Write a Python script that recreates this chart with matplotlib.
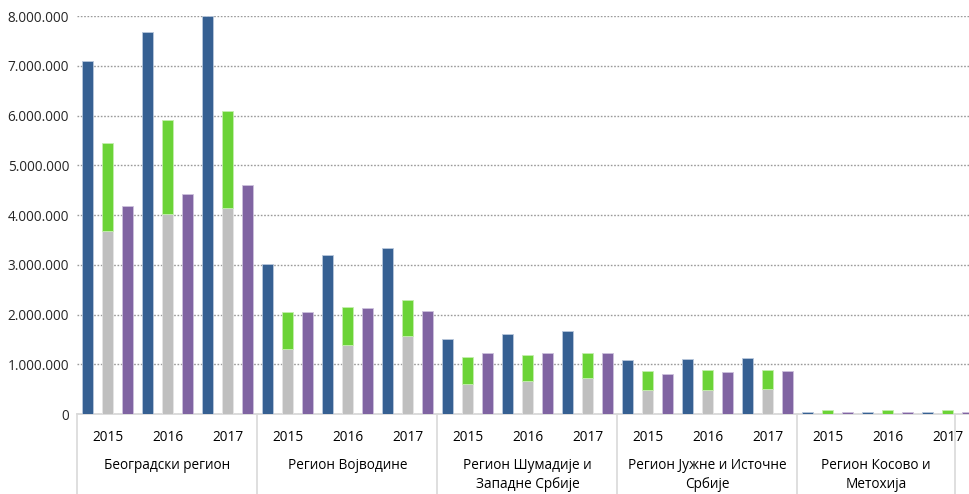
import matplotlib
matplotlib.use("Agg")
import matplotlib.pyplot as plt
from matplotlib.ticker import FuncFormatter, MultipleLocator
import numpy as np

plt.rcParams['font.family'] = ['Open Sans', 'DejaVu Sans']

years = ['2015', '2016', '2017']
regions = ['Београдски регион', 'Регион Војводине', 'Регион Шумадије и\nЗападне Србије',
           'Регион Јужне и Источне\nСрбије', 'Регион Косово и\nМетохија']

blue = [7100000, 7670000, 8000000, 3015000, 3190000, 3340000, 1500000, 1600000, 1660000,
        1085000, 1110000, 1130000, 50000, 50000, 50000]
gray = [3680000, 4030000, 4150000, 1306000, 1390000, 1570000, 600000, 660000, 720000,
        480000, 480000, 500000, 0, 0, 0]
green = [1760000, 1870000, 1950000, 744000, 770000, 730000, 540000, 520000, 510000,
         380000, 400000, 380000, 90000, 90000, 90000]
purple = [4180000, 4420000, 4600000, 2050000, 2140000, 2070000, 1230000, 1220000, 1230000,
          800000, 840000, 860000, 40000, 40000, 40000]

c_blue, c_gray, c_green, c_purple = '#366092', '#BFBFBF', '#6BD337', '#8064A2'

W, H = 970, 494
fig = plt.figure(figsize=(W / 100, H / 100), dpi=100)
left_px, right_px, top_px, base_px = 77.5, 977.5, 16, 414
ax = fig.add_axes([left_px / W, (H - base_px) / H, (right_px - left_px) / W, (base_px - top_px) / H])

n = len(blue)
x = np.arange(n)
bw = 0.195
off = 1 / 3
ax.bar(x - off, blue, bw, color=c_blue, edgecolor='#B8C7DC', linewidth=0.6, zorder=3)
ax.bar(x, gray, bw, color=c_gray, edgecolor='#E4E4E4', linewidth=0.6, zorder=3)
ax.bar(x, green, bw, bottom=gray, color=c_green, edgecolor='#C4EEAE', linewidth=0.6, zorder=3)
ax.bar(x + off, purple, bw, color=c_purple, edgecolor='#CDC1DC', linewidth=0.6, zorder=3)

ax.set_xlim(-0.5, n - 0.5)
ax.set_ylim(0, 8000000)
ax.yaxis.set_major_locator(MultipleLocator(1000000))
ax.yaxis.set_major_formatter(FuncFormatter(lambda v, p: f"{int(v):,}".replace(',', '.')))
ax.grid(axis='y', linestyle=(0, (1.2, 1.2)), color='#9A9A9A', linewidth=1.0, zorder=0)
ax.set_axisbelow(True)
for s in ['top', 'right', 'left']:
    ax.spines[s].set_visible(False)
ax.spines['bottom'].set_color('#D9D9D9')
ax.spines['bottom'].set_linewidth(1.3)
ax.tick_params(axis='y', length=0, pad=6, labelsize=9.8, labelcolor='#262626')
ax.tick_params(axis='x', length=0, labelbottom=False)

tr = ax.get_xaxis_transform()
px2ax = 1.0 / (base_px - top_px)
year_y = -(437 - base_px) * px2ax
reg_y = -(458 - base_px) * px2ax
for k in range(n):
    ax.text(k, year_y, years[k % 3], transform=tr, ha='center', va='center',
            fontsize=9.8, color='#000000')

# region separators and labels
seps = [-0.5, 2.5, 5.5, 8.5, 11.5, 14.125]
for sx in seps:
    ax.plot([sx, sx], [0, -(H - base_px) * px2ax], transform=tr, color='#D9D9D9',
            linewidth=1.2, clip_on=False, zorder=1)
for i, r in enumerate(regions):
    cx = (seps[i] + seps[i + 1]) / 2
    ax.text(cx, reg_y, r, transform=tr, ha='center', va='top', fontsize=9.8,
            color='#000000', linespacing=1.38)

fig.savefig('out.png', dpi=100)
